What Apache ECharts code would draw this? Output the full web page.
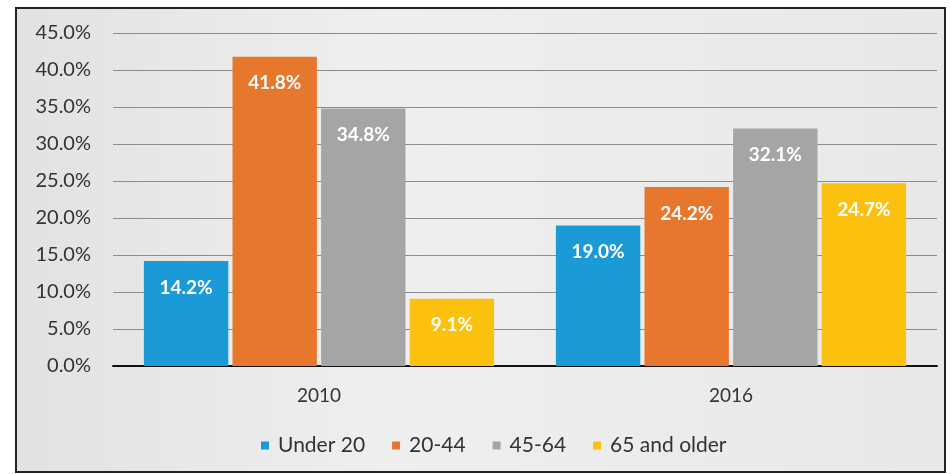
<!DOCTYPE html>
<html>
<head>
<meta charset="utf-8">
<script src="https://cdn.jsdelivr.net/npm/echarts@6/dist/echarts.min.js"></script>
<style>
  html, body { margin: 0; padding: 0; background: #ffffff; }
  #frame {
    position: absolute; left: 15px; top: 7px; width: 927px; height: 462px;
    border: 2px solid #222; background: linear-gradient(90deg, #e2e2e2 0%, #efefef 40%, #e8e8e8 100%);
  }
  #chart { position: absolute; left: 0; top: 0; width: 951px; height: 474px; }
</style>
</head>
<body>
<div id="frame"></div>
<div id="chart"></div>
<script>
// Age-group shares by year
const years = ['2010', '2016'];
const groupNames = ['Under 20', '20-44', '45-64', '65 and older'];
const under20 = [14.2, 19.0];
const age20to44 = [41.8, 24.2];
const age45to64 = [34.8, 32.1];
const age65plus = [9.1, 24.7];
const yTicks = [0, 5, 10, 15, 20, 25, 30, 35, 40, 45];

const colors = ['#1a9bd7', '#e8772e', '#a5a5a5', '#fcc10f'];
const seriesValues = [under20, age20to44, age45to64, age65plus];

const chart = echarts.init(document.getElementById('chart'), null, { renderer: 'canvas' });
const font = 'Lato, "Open Sans", sans-serif';

chart.setOption({
  backgroundColor: 'transparent',
  animation: false,
  textStyle: { fontFamily: font },
  grid: { left: 113, right: 14, top: 33, bottom: 108 },
  legend: {
    top: 430, left: 256,
    itemWidth: 8, itemHeight: 8, itemGap: 27,
    icon: 'rect',
    textStyle: { fontSize: 21, color: '#333', fontFamily: font, padding: [0, 0, 0, 4] },
    data: groupNames
  },
  xAxis: {
    type: 'category',
    data: years,
    axisLine: { lineStyle: { color: '#111', width: 2 } },
    axisTick: { show: false },
    axisLabel: { fontSize: 19, color: '#333', margin: 20, fontFamily: font }
  },
  yAxis: {
    type: 'value',
    min: yTicks[0], max: yTicks[yTicks.length - 1], interval: 5,
    axisLine: { show: false },
    axisTick: { show: false },
    axisLabel: { fontSize: 20, color: '#333', margin: 22, fontFamily: font,
      formatter: v => v.toFixed(1) + '%' },
    splitLine: { lineStyle: { color: '#8c8c8c', width: 1 } }
  },
  series: groupNames.map((name, i) => ({
    name,
    type: 'bar',
    data: seriesValues[i],
    barGap: '5%',
    barCategoryGap: '15%',
    itemStyle: { color: colors[i] },
    label: {
      show: true, position: 'insideTop', distance: 17,
      color: '#fff', fontWeight: 'bold', fontSize: 19, fontFamily: font,
      formatter: p => p.value.toFixed(1) + '%'
    }
  }))
});
</script>
</body>
</html>
